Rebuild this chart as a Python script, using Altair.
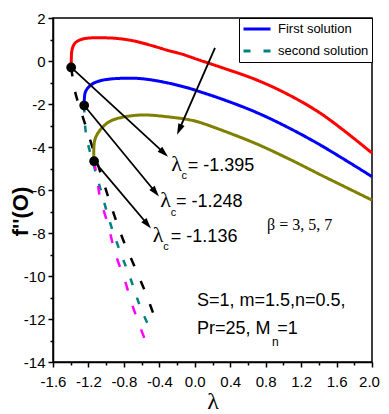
import math
import altair as alt
import pandas as pd

# ---------------- data ----------------
# first solutions (upper branches)
red_lam = [-1.395, -1.393, -1.385, -1.352, -1.276, -1.145, -1.032, -0.881, -0.694, -0.505, -0.317, -0.129, -0.054, 0.059, 0.319, 0.70, 1.075, 1.447, 2.0]
red_f = [-0.30, 0.13, 0.52, 0.83, 1.01, 1.08, 1.08, 1.05, 0.94, 0.74, 0.51, 0.30, 0.195, 0.033, -0.326, -0.884, -1.605, -2.512, -4.279]

blue_lam = [-1.248, -1.246, -1.235, -1.20, -1.14, -1.06, -0.957, -0.768, -0.581, -0.317, -0.054, 0.059, 0.319, 0.70, 1.075, 1.447, 2.0]
blue_f = [-2.07, -1.75, -1.45, -1.22, -1.03, -0.91, -0.84, -0.80, -0.83, -1.01, -1.28, -1.43, -1.79, -2.40, -3.14, -3.98, -5.38]

olive_lam = [-1.136, -1.14, -1.13, -1.10, -1.05, -0.96, -0.81, -0.58, -0.317, -0.054, 0.059, 0.319, 0.70, 1.075, 1.447, 2.0]
olive_f = [-4.66, -4.20, -3.70, -3.40, -3.12, -2.81, -2.61, -2.51, -2.59, -2.74, -2.86, -3.24, -3.86, -4.58, -5.35, -6.47]

# second solutions (lower branches)
black_lam = [-1.395, -1.37, -1.34, -1.225, -0.923, -0.81, -0.675, -0.54, -0.426]
black_f = [-0.30, -1.0, -1.6, -3.1, -7.0, -8.30, -9.60, -10.94, -12.24]

teal_lam = [-1.248, -1.24, -1.216, -1.13, -1.047, -0.957, -0.844, -0.731, -0.618, -0.505]
teal_f = [-2.07, -2.9, -3.66, -5.0, -6.21, -7.51, -8.85, -10.06, -11.40, -12.47]

magenta_lam = [-1.136, -1.10, -1.07, -0.98, -0.90, -0.787, -0.697, -0.55]
magenta_f = [-4.66, -5.5, -6.35, -7.60, -8.90, -10.24, -11.45, -13.1]

# critical points
crit_lam = [-1.395, -1.248, -1.136]
crit_f = [-0.30, -2.07, -4.66]

# arrows: start (lam, f) -> end (lam, f)
arrow_x1 = [-1.395, -1.248, -1.136, 0.228]
arrow_y1 = [-0.30, -2.07, -4.66, 0.61]
arrow_x2 = [-0.302, -0.404, -0.494, -0.20]
arrow_y2 = [-4.45, -6.30, -7.79, -3.43]

x_ticks = [round(-1.6 + 0.2 * i, 1) for i in range(19)]
y_ticks = list(range(-14, 3))

legend_labels = ["First solution", "second solution"]

# ---------------- layout ----------------
W, H = 319, 344
XMIN, XMAX, YMIN, YMAX = -1.6, 2.0, -14, 2
PXX = W / (XMAX - XMIN)
PXY = H / (YMAX - YMIN)

SANS = "Liberation Sans, Arial"
SERIF = "Liberation Serif, Times New Roman"

keys = legend_labels + ["b3 first", "b7 first", "b3 second", "b7 second"]
colors = ["#0000FF", "#008080", "#FF0000", "#808000", "#000000", "#FF00FF"]
DASH = [9, 16]
dashes = [[1, 0], [7, 13], [1, 0], [1, 0], DASH, DASH]

rows = []
def add(key, kind, lam, f):
    for i, (a, b) in enumerate(zip(lam, f)):
        rows.append({"key": key, "kind": kind, "lam": a, "f": b, "i": i})

add("b3 first", "solid", red_lam, red_f)
add("First solution", "solid", blue_lam, blue_f)
add("b7 first", "solid", olive_lam, olive_f)
add("b3 second", "dash", black_lam, black_f)
add("second solution", "dash", teal_lam, teal_f)
add("b7 second", "dash", magenta_lam, magenta_f)
lines_df = pd.DataFrame(rows)

legend = alt.Legend(
    values=legend_labels, title=None, orient="top-right", offset=0,
    strokeColor="black", fillColor="white", padding=3,
    labelFont=SANS, labelFontSize=13, labelColor="black", labelLimit=300,
    symbolType="stroke", symbolSize=729, symbolStrokeWidth=3,
    labelOffset=6, rowPadding=6, clipHeight=16,
)

x_axis = alt.Axis(
    values=x_ticks, title="λ", grid=False,
    labelExpr="abs(round(datum.value*10)) % 4 == 0 ? (datum.value < 0 ? '-' : '') + format(abs(datum.value), '.1f') : ''",
    tickSize={"condition": {"test": "abs(round(datum.value*10)) % 4 == 0", "value": 5}, "value": 3},
    labelOffset={"condition": {"test": "datum.value >= 1.99", "value": -3}, "value": 0},
    labelFont=SANS, labelFontSize=15, labelPadding=7, labelFlush=False,
    titleFont=SERIF, titleFontSize=24, titleFontWeight="normal", titlePadding=0,
)
y_axis = alt.Axis(
    values=y_ticks, title="f''(O)", grid=False,
    labelExpr="abs(datum.value) % 2 == 0 ? (datum.value < 0 ? '-' : '') + abs(datum.value) : ''",
    tickSize={"condition": {"test": "abs(datum.value) % 2 == 0", "value": 5}, "value": 3},
    labelFont=SANS, labelFontSize=15, labelPadding=3, labelFlush=False,
    titleFont=SANS, titleFontSize=22, titleFontWeight="bold",
    titleX=-26, titleY=193, titleBaseline="alphabetic",
)

xs = alt.Scale(domain=[XMIN, XMAX], nice=False, zero=False)
ys = alt.Scale(domain=[YMIN, YMAX], nice=False, zero=False)
X = alt.X("lam:Q", scale=xs, axis=x_axis)
Y = alt.Y("f:Q", scale=ys, axis=y_axis)

color = alt.Color("key:N", scale=alt.Scale(domain=keys, range=colors), legend=legend)
dash = alt.StrokeDash("key:N", scale=alt.Scale(domain=keys, range=dashes), legend=legend)

base = alt.Chart(lines_df)
dashed = base.transform_filter("datum.kind == 'dash'").mark_line(
    strokeWidth=2.5, interpolate="catmull-rom").encode(
    x=X, y=Y, color=color, strokeDash=dash, order="i:Q", detail="key:N")
solid = base.transform_filter("datum.kind == 'solid'").mark_line(
    strokeWidth=3, interpolate="catmull-rom").encode(
    x=X, y=Y, color=color, strokeDash=dash, order="i:Q", detail="key:N")

# arrows
arr = []
HEAD = 11.0
for a, b, c, d in zip(arrow_x1, arrow_y1, arrow_x2, arrow_y2):
    dxp = (c - a) * PXX
    dyp = -(d - b) * PXY
    L = math.hypot(dxp, dyp)
    ang = math.degrees(math.atan2(dxp, -dyp)) % 360
    back = HEAD / 2
    hx = c - (dxp / L) * back / PXX
    hy = d + (dyp / L) * back / PXY
    arr.append({"lam": a, "f": b, "lam2": hx, "f2": hy, "hx": hx, "hy": hy, "ang": ang})
arr_df = pd.DataFrame(arr)

rules = alt.Chart(arr_df).mark_rule(color="black", strokeWidth=1.8).encode(
    x=X, y=Y, x2="lam2:Q", y2="f2:Q")
heads = alt.Chart(arr_df).mark_point(
    shape="M0,-1L0.62,1L-0.62,1Z", filled=True, color="black", opacity=1, size=HEAD * HEAD
).encode(
    x=alt.X("hx:Q", scale=xs, axis=x_axis), y=alt.Y("hy:Q", scale=ys, axis=y_axis),
    angle=alt.Angle("ang:Q", scale=None))

dots = alt.Chart(pd.DataFrame({"lam": crit_lam, "f": crit_f})).mark_circle(
    color="black", opacity=1, size=95).encode(x=X, y=Y)

# annotation text
sans_txt = pd.DataFrame([
    {"lam": -0.080, "f": -5.10, "t": "= -1.395", "s": 18},
    {"lam": -0.212, "f": -6.81, "t": "= -1.248", "s": 18},
    {"lam": -0.270, "f": -8.44, "t": "= -1.136", "s": 18},
    {"lam": -0.150, "f": -5.51, "t": "c", "s": 11},
    {"lam": -0.272, "f": -7.22, "t": "c", "s": 11},
    {"lam": -0.355, "f": -8.81, "t": "c", "s": 11},
    {"lam": 0.025, "f": -11.40, "t": "S=1, m=1.5,n=0.5,", "s": 18},
    {"lam": 0.025, "f": -12.70, "t": "Pr=25, M", "s": 18},
    {"lam": 0.872, "f": -13.26, "t": "n", "s": 12},
    {"lam": 0.930, "f": -12.70, "t": "=1", "s": 18},
])
serif_txt = pd.DataFrame([
    {"lam": -0.265, "f": -5.12, "t": "λ", "s": 22},
    {"lam": -0.389, "f": -6.78, "t": "λ", "s": 22},
    {"lam": -0.473, "f": -8.40, "t": "λ", "s": 22},
    {"lam": 0.815, "f": -7.88, "t": "β = 3, 5, 7", "s": 16},
])
t1 = alt.Chart(sans_txt).mark_text(align="left", baseline="alphabetic", font=SANS, color="black").encode(
    x=X, y=Y, text="t:N", size=alt.Size("s:Q", scale=None))
t2 = alt.Chart(serif_txt).mark_text(align="left", baseline="alphabetic", font=SERIF, color="black").encode(
    x=X, y=Y, text="t:N", size=alt.Size("s:Q", scale=None))

chart = alt.layer(dashed, solid, rules, heads, dots, t1, t2).properties(
    width=W, height=H,
    autosize=alt.AutoSizeParams(type="none"),
    padding={"left": 45, "top": 10, "right": 9, "bottom": 52},
    background="white",
).configure_view(stroke="black", strokeWidth=1.5).configure_axis(
    domainColor="black", domainWidth=1.5, tickColor="black", tickWidth=1.5,
    labelColor="black", titleColor="black",
)

chart.save("out.html", embed_options={"renderer": "svg", "actions": False})
